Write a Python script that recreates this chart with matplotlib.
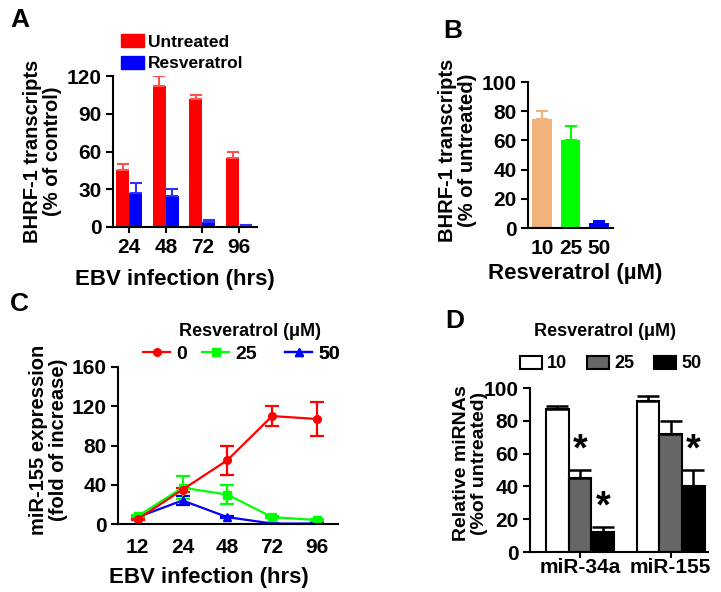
import numpy as np
import matplotlib
matplotlib.use("Agg")
import matplotlib.pyplot as plt
from matplotlib.patches import Patch
from matplotlib.lines import Line2D

plt.rcParams['font.family'] = ['Liberation Sans', 'DejaVu Sans']
plt.rcParams['font.weight'] = 'bold'
plt.rcParams['axes.labelweight'] = 'bold'

#-----------------------
# Data
#-----------------------
# Panel A
a_hours = ["24", "48", "72", "96"]
a_untreated = [45, 112, 102, 55]
a_untreated_err = [5, 8, 3, 5]
a_resv = [27, 25, 4, 1]
a_resv_err = [8, 5, 1.5, 0.8]

# Panel B
b_dose = ["10", "25", "50"]
b_vals = [75, 60, 3.5]
b_err = [5, 10, 1.5]
b_colors = ["#F0B27A", "#00FF00", "#0000FF"]

# Panel C
c_hours = ["12", "24", "48", "72", "96"]
c_dose = ["0", "25", "50"]
c_vals = [[5, 35, 65, 110, 107],
          [8, 37, 30, 7, 4],
          [7, 24, 7, 0.5, 0.5]]
c_err = [[0.5, 2, 15, 10, 17],
         [1, 12, 10, 1, 1],
         [1, 5, 1, 0.5, 0.5]]
c_colors = ["#FF0000", "#00FF00", "#0000FF"]
c_markers = ["o", "s", "^"]

# Panel D
d_mirna = ["miR-34a", "miR-155"]
d_dose = ["10", "25", "50"]
d_vals = [[87, 92], [45, 72], [12, 40]]
d_err = [[2, 3], [5, 8], [3, 10]]
d_colors = ["white", "#666666", "black"]
d_stars = [(0, 1), (0, 2), (1, 2)]   # (group, dose index)

#-----------------------
# Figure / layout helpers
#-----------------------
W, H = 721, 592
fig = plt.figure(figsize=(W / 100, H / 100), dpi=100)


def px_axes(left, right, top, bottom):
    return fig.add_axes([left / W, 1 - bottom / H, (right - left) / W, (bottom - top) / H])


def style(ax, xticklen=4, xpad=3):
    for s in ["top", "right"]:
        ax.spines[s].set_visible(False)
    for s in ["left", "bottom"]:
        ax.spines[s].set_linewidth(1.5)
    ax.tick_params(axis='y', direction='out', length=5, width=1.5, labelsize=15, pad=3)
    ax.tick_params(axis='x', direction='out', length=xticklen, width=1.5, labelsize=15, pad=xpad)


LABEL_SIZE = 14.5
XLABEL_SIZE = 16

#---------
# Panel A
#---------
axA = px_axes(113, 257, 76, 227)
x = np.arange(len(a_hours))
w = 0.355
zeros = np.zeros(len(x))
axA.bar(x - w / 2, a_untreated, w, color="#FF0000",
        yerr=[zeros, a_untreated_err], error_kw=dict(ecolor="#FF5050", capsize=4, elinewidth=1.5, capthick=1.5))
axA.bar(x + w / 2, a_resv, w, color="#0000FF",
        yerr=[zeros, a_resv_err], error_kw=dict(ecolor="#3030FF", capsize=4, elinewidth=1.5, capthick=1.5))
axA.set_xlim(-0.44, 3.49)
axA.set_ylim(0, 120)
axA.set_yticks([0, 30, 60, 90, 120])
axA.set_xticks(x)
axA.set_xticklabels(a_hours)
style(axA, xpad=4)
axA.set_ylabel("BHRF-1 transcripts\n(% of control)", fontsize=LABEL_SIZE, va='center', linespacing=1.1)
axA.yaxis.set_label_coords(-0.49, 0.5)
axA.set_xlabel("EBV infection (hrs)", fontsize=XLABEL_SIZE, va='center')
axA.xaxis.set_label_coords(0.43, -0.35)
axA.legend([Patch(color="#FF0000"), Patch(color="#0000FF")], ["Untreated", "Resveratrol"],
           loc='upper left', bbox_to_anchor=(121 / W, 1 - 34 / H), bbox_transform=fig.transFigure,
           frameon=False, borderpad=0, borderaxespad=0, fontsize=12.5,
           handlelength=1.3, handleheight=0.8, handletextpad=0.25, labelspacing=0.35)

#---------
# Panel B
#---------
axB = px_axes(528, 613, 82, 228)
xb = np.arange(len(b_dose))
for i in range(len(b_dose)):
    axB.bar(xb[i], b_vals[i], 0.67, color=b_colors[i],
            yerr=[[0], [b_err[i]]], error_kw=dict(ecolor=b_colors[i], capsize=4, elinewidth=1.5, capthick=1.5))
axB.set_xlim(-0.49, 2.49)
axB.set_ylim(0, 100)
axB.set_yticks([0, 20, 40, 60, 80, 100])
axB.set_xticks(xb)
axB.set_xticklabels(b_dose)
style(axB, xticklen=0, xpad=8)
axB.set_ylabel("BHRF-1 transcripts\n(% of untreated)", fontsize=LABEL_SIZE, va='center', linespacing=1.1)
axB.yaxis.set_label_coords(-0.83, 0.534)
axB.set_xlabel("Resveratrol (\u00b5M)", fontsize=XLABEL_SIZE, va='center')
axB.xaxis.set_label_coords(0.553, -0.31)

#---------
# Panel C
#---------
axC = px_axes(118, 338, 367, 524)
xc = np.arange(len(c_hours))
for i in [2, 1, 0]:
    axC.errorbar(xc, c_vals[i], yerr=c_err[i], color=c_colors[i], marker=c_markers[i],
                 markersize=5.5, linewidth=1.6, elinewidth=1.6, capsize=5, capthick=1.6)
axC.set_xlim(-0.44, 4.47)
axC.set_ylim(0, 160)
axC.set_yticks([0, 40, 80, 120, 160])
axC.set_xticks(xc)
axC.set_xticklabels(c_hours)
style(axC, xticklen=0, xpad=10)
axC.set_ylabel("miR-155 expression\n(fold of increase)", fontsize=LABEL_SIZE, va='center', linespacing=1.1)
axC.yaxis.set_label_coords(-0.315, 0.535)
axC.set_xlabel("EBV infection (hrs)", fontsize=XLABEL_SIZE, va='center')
axC.xaxis.set_label_coords(0.414, -0.338)
fig.text(250 / W, 1 - 331 / H, "Resveratrol (\u03bcM)", fontsize=13, ha='center', va='center')
c_leg_x = [143, 202, 285]
for i in range(len(c_dose)):
    leg = axC.legend([Line2D([], [], color=c_colors[i], marker=c_markers[i], markersize=5.5, linewidth=1.6)],
                     [c_dose[i]], loc='center left',
                     bbox_to_anchor=(c_leg_x[i] / W, 1 - 354 / H), bbox_transform=fig.transFigure,
                     frameon=False, borderpad=0, borderaxespad=0, fontsize=14,
                     handlelength=1.4, handletextpad=0.3)
    axC.add_artist(leg)

#---------
# Panel D
#---------
axD = px_axes(530, 708, 388, 552)
xd = np.arange(len(d_mirna))
wd = 0.25
for j in range(len(d_dose)):
    axD.bar(xd + (j - 1) * wd, d_vals[j], wd, color=d_colors[j], edgecolor="black", linewidth=1.5,
            yerr=[np.zeros(len(xd)), d_err[j]],
            error_kw=dict(ecolor="black", capsize=8, elinewidth=1.8, capthick=1.8))
for g, j in d_stars:
    axD.text(xd[g] + (j - 1) * wd, d_vals[j][g] + d_err[j][g] + 1, "*",
             fontsize=27, ha='center', va='bottom')
axD.set_xlim(-0.55, 1.41)
axD.set_ylim(0, 100)
axD.set_yticks([0, 20, 40, 60, 80, 100])
axD.set_xticks(xd)
axD.set_xticklabels(d_mirna)
style(axD, xpad=0)
axD.set_ylabel("Relative miRNAs\n(%of untreated)", fontsize=14, va='center', linespacing=1.1)
axD.yaxis.set_label_coords(-0.335, 0.54)
fig.text(605 / W, 1 - 331 / H, "Resveratrol (\u03bcM)", fontsize=13, ha='center', va='center')
axD.legend([Patch(facecolor=c, edgecolor="black", linewidth=1.5) for c in d_colors], d_dose,
           loc='center left', bbox_to_anchor=(520 / W, 1 - 364 / H), bbox_transform=fig.transFigure,
           ncol=3, frameon=False, borderpad=0, borderaxespad=0, fontsize=13,
           handlelength=1.2, handleheight=0.75, handletextpad=0.3, columnspacing=1.1)

#---------
# Panel letters
#---------
for letter, (lx, ly) in {"A": (10, 8), "B": (443, 19), "C": (10, 292), "D": (445, 309)}.items():
    fig.text(lx / W, 1 - ly / H, letter, fontsize=19, fontweight='bold', ha='left', va='top')

fig.savefig("out.png", dpi=100)
